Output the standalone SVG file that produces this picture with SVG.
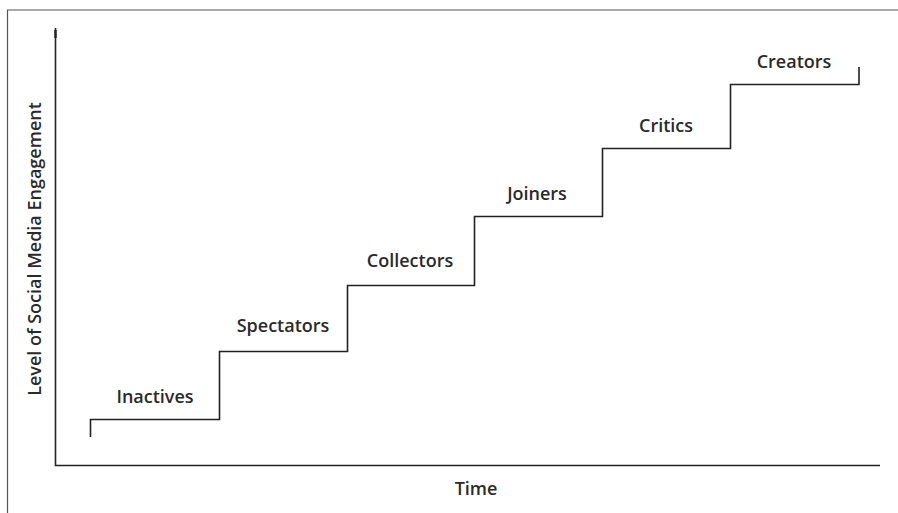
<svg xmlns="http://www.w3.org/2000/svg" width="898" height="513" viewBox="0 0 898 513">
<style>
.lbl{font-family:"Open Sans","Liberation Sans",sans-serif;font-weight:600;font-size:18px;fill:#2a2a2a;text-anchor:middle}
.ln{stroke:#222;stroke-width:1.6;fill:none}
.fr{stroke:#555;stroke-width:1.2;fill:none}
</style>
<rect width="898" height="513" fill="#fff"/>
<g id="frame">
<path class="fr" d="M7.5,513 V10 H898"/>
</g>
<g id="axes">
<path class="ln" d="M55.5,28 V465.5 H880"/>
<path stroke="#222" stroke-width="2.4" d="M55.5,30 V38"/>
</g>
<g id="connectors">
<path class="ln" d="M90.5,437 V419.5 H219.5 V351.5 H347.5 V285.5 H474.5 V216.5 H602.5 V148.5 H730.5 V84.5 H859 V67"/>
</g>
<g id="inactives"><text class="lbl" x="155" y="403">Inactives</text></g>
<g id="spectators"><text class="lbl" x="283" y="332">Spectators</text></g>
<g id="collectors"><text class="lbl" x="410" y="267">Collectors</text></g>
<g id="joiners"><text class="lbl" x="537" y="200">Joiners</text></g>
<g id="critics"><text class="lbl" x="666" y="132">Critics</text></g>
<g id="creators"><text class="lbl" x="794" y="68">Creators</text></g>
<g id="time"><text class="lbl" x="476" y="495">Time</text></g>
<g id="ylabel"><text class="lbl" transform="translate(41,249) rotate(-90)">Level of Social Media Engagement</text></g>
</svg>
